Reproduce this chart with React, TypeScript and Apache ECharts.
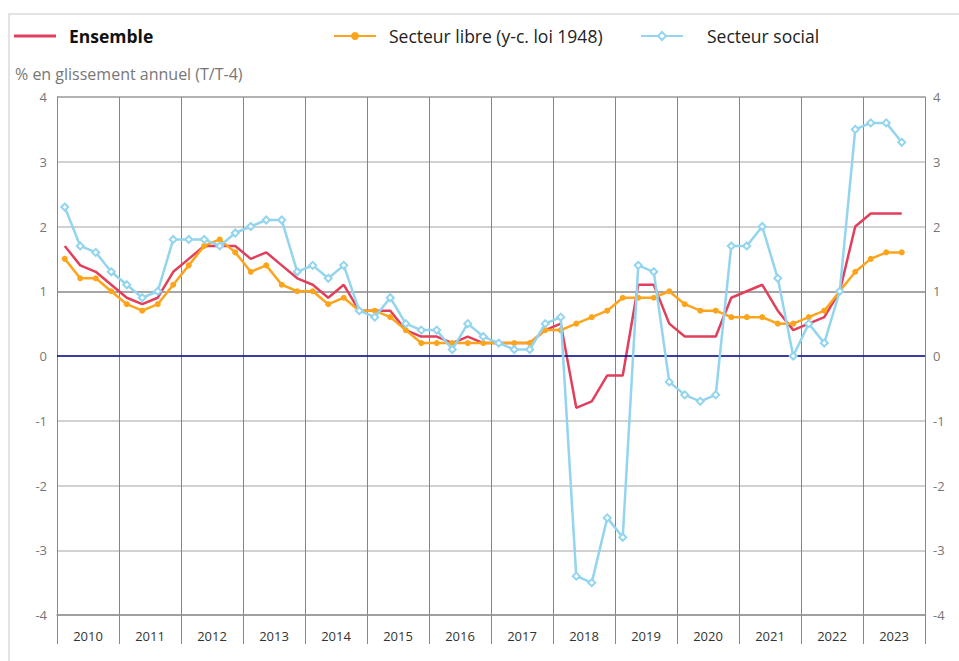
import React, { useEffect, useRef } from "react";
import * as echarts from "echarts";

const years = ["2010", "2011", "2012", "2013", "2014", "2015", "2016", "2017", "2018", "2019", "2020", "2021", "2022", "2023"];
const quarters = years.flatMap((y) => ["T1", "T2", "T3", "T4"].map((q) => `${y} ${q}`));

const ensemble = [
  1.7, 1.4, 1.3, 1.1, 0.9, 0.8, 0.9, 1.3, 1.5, 1.7, 1.7, 1.7,
  1.5, 1.6, 1.4, 1.2, 1.1, 0.9, 1.1, 0.7, 0.7, 0.7, 0.4, 0.3,
  0.3, 0.2, 0.3, 0.2, 0.2, 0.2, 0.2, 0.4, 0.5, -0.8, -0.7, -0.3,
  -0.3, 1.1, 1.1, 0.5, 0.3, 0.3, 0.3, 0.9, 1.0, 1.1, 0.7, 0.4,
  0.5, 0.6, 1.0, 2.0, 2.2, 2.2, 2.2,
];
const secteurLibre = [
  1.5, 1.2, 1.2, 1.0, 0.8, 0.7, 0.8, 1.1, 1.4, 1.7, 1.8, 1.6,
  1.3, 1.4, 1.1, 1.0, 1.0, 0.8, 0.9, 0.7, 0.7, 0.6, 0.4, 0.2,
  0.2, 0.2, 0.2, 0.2, 0.2, 0.2, 0.2, 0.4, 0.4, 0.5, 0.6, 0.7,
  0.9, 0.9, 0.9, 1.0, 0.8, 0.7, 0.7, 0.6, 0.6, 0.6, 0.5, 0.5,
  0.6, 0.7, 1.0, 1.3, 1.5, 1.6, 1.6,
];
const secteurSocial = [
  2.3, 1.7, 1.6, 1.3, 1.1, 0.9, 1.0, 1.8, 1.8, 1.8, 1.7, 1.9,
  2.0, 2.1, 2.1, 1.3, 1.4, 1.2, 1.4, 0.7, 0.6, 0.9, 0.5, 0.4,
  0.4, 0.1, 0.5, 0.3, 0.2, 0.1, 0.1, 0.5, 0.6, -3.4, -3.5, -2.5,
  -2.8, 1.4, 1.3, -0.4, -0.6, -0.7, -0.6, 1.7, 1.7, 2.0, 1.2, 0.0,
  0.5, 0.2, 1.0, 3.5, 3.6, 3.6, 3.3,
];

const PINK = "#e23f5c";
const ORANGE = "#fca51c";
const BLUE = "#93d4ee";
const FONT = "'Open Sans', sans-serif";

export default function App() {
  const ref = useRef<HTMLDivElement>(null);

  useEffect(() => {
    if (!ref.current) return;
    const chart = echarts.init(ref.current, null, { renderer: "svg" });
    const yLabel = { fontFamily: FONT, fontSize: 13, color: "#777" };
    const legendBase = {
      top: 27,
      padding: 0,
      itemWidth: 42,
      itemHeight: 10,
      itemGap: 0,
    };
    chart.setOption({
      animation: false,
      textStyle: { fontFamily: FONT },
      title: {
        text: "% en glissement annuel (T/T-4)",
        left: 15,
        top: 66,
        padding: 0,
        textStyle: { fontFamily: FONT, fontSize: 16, fontWeight: "normal", color: "#777" },
      },
      legend: [
        {
          ...legendBase,
          data: [{ name: "Ensemble", icon: "rect" }],
          left: 14,
          itemHeight: 3,
          textStyle: { fontFamily: FONT, fontSize: 17.5, fontWeight: "bold", color: "#111", padding: [0, 0, 0, 8] },
        },
        {
          ...legendBase,
          data: ["Secteur libre (y-c. loi 1948)"],
          left: 333,
          textStyle: { fontFamily: FONT, fontSize: 17.5, color: "#222", padding: [0, 0, 0, 8] },
        },
        {
          ...legendBase,
          data: ["Secteur social"],
          left: 640,
          textStyle: { fontFamily: FONT, fontSize: 17.5, color: "#222", padding: [0, 0, 0, 19] },
        },
      ],
      grid: { left: 57, right: 34, top: 97, bottom: 46, containLabel: false },
      xAxis: [
        {
          type: "category",
          data: years,
          boundaryGap: true,
          position: "bottom",
          axisLine: { show: true, onZero: false, lineStyle: { color: "#999", width: 1.5 } },
          axisTick: { show: true, interval: 0, inside: false, alignWithLabel: false, length: 29, lineStyle: { color: "#888", width: 1 } },
          axisLabel: { interval: 0, margin: 14, fontFamily: FONT, fontSize: 13, color: "#333" },
          splitLine: { show: true, interval: 0, lineStyle: { color: "#858585", width: 1 } },
        },
        {
          type: "category",
          data: quarters,
          boundaryGap: true,
          position: "bottom",
          show: false,
          axisLine: { onZero: false },
        },
      ],
      yAxis: [
        {
          type: "value",
          min: -4,
          max: 4,
          interval: 1,
          position: "left",
          axisLine: { show: true, lineStyle: { color: "#888", width: 1 } },
          axisTick: { show: false },
          axisLabel: { ...yLabel, margin: 10 },
          splitLine: {
            show: true,
            lineStyle: {
              color: ["#999", "#c2c2c2", "#c2c2c2", "#c2c2c2", "#c2c2c2", "#888", "#c2c2c2", "#c2c2c2", "#999"],
              width: 1.5,
            },
          },
        },
        {
          type: "value",
          min: -4,
          max: 4,
          interval: 1,
          position: "right",
          axisLine: { show: true, lineStyle: { color: "#888", width: 1 } },
          axisTick: { show: false },
          axisLabel: { ...yLabel, margin: 8 },
          splitLine: { show: false },
        },
      ],
      series: [
        {
          name: "Ensemble",
          type: "line",
          xAxisIndex: 1,
          yAxisIndex: 0,
          data: ensemble,
          symbol: "none",
          showSymbol: false,
          lineStyle: { color: PINK, width: 2.5 },
          itemStyle: { color: PINK },
          z: 3,
          markLine: {
            silent: true,
            symbol: "none",
            label: { show: false },
            lineStyle: { color: "#0a0a96", width: 1.5, type: "solid" },
            data: [{ yAxis: 0 }],
          },
        },
        {
          name: "Secteur libre (y-c. loi 1948)",
          type: "line",
          xAxisIndex: 1,
          yAxisIndex: 0,
          data: secteurLibre,
          symbol: "circle",
          symbolSize: 6,
          lineStyle: { color: ORANGE, width: 2.5 },
          itemStyle: { color: ORANGE, borderWidth: 0 },
          z: 4,
        },
        {
          name: "Secteur social",
          type: "line",
          xAxisIndex: 1,
          yAxisIndex: 0,
          data: secteurSocial,
          symbol: "diamond",
          symbolSize: 7,
          lineStyle: { color: BLUE, width: 2.5 },
          itemStyle: { color: "#ffffff", borderColor: BLUE, borderWidth: 2 },
          z: 5,
        },
      ],
    });
    return () => chart.dispose();
  }, []);

  return (
    <div style={{ position: "fixed", left: 0, top: 0, width: 959, height: 661, background: "#fff", overflow: "hidden" }}>
      <div
        style={{
          position: "absolute",
          left: 8,
          top: 13,
          width: 1000,
          height: 700,
          borderTop: "2px solid #e3e3e3",
          borderLeft: "2px solid #e3e3e3",
        }}
      />
      <div ref={ref} style={{ position: "absolute", left: 0, top: 0, width: 959, height: 661 }} />
    </div>
  );
}
